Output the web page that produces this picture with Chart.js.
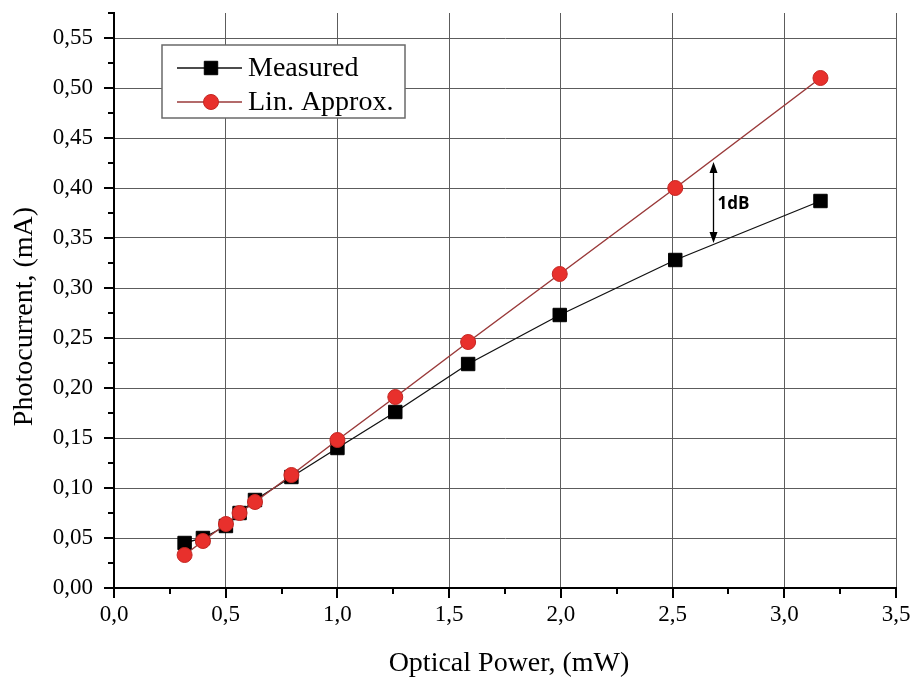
<!DOCTYPE html>
<html>
<head>
<meta charset="utf-8">
<title>Photocurrent vs Optical Power</title>
<script src="https://cdn.jsdelivr.net/npm/chart.js@4.4.1/dist/chart.umd.min.js"></script>
<style>
  html, body { margin: 0; padding: 0; background: #ffffff; }
  #c { display: block; }
</style>
</head>
<body>
<canvas id="c" width="913" height="681"></canvas>
<script>
// Optical input power (mW): -5 ... +5 dBm
const powerMW = [0.316, 0.398, 0.501, 0.562, 0.631, 0.794, 1.000, 1.259, 1.585, 1.995, 2.512, 3.162];
// Measured photocurrent (mA)
const measured = [0.045, 0.050, 0.062, 0.075, 0.088, 0.111, 0.140, 0.176, 0.224, 0.273, 0.328, 0.387];
// Linear approximation of the photocurrent (mA)
const linApprox = [0.033, 0.047, 0.064, 0.075, 0.086, 0.113, 0.148, 0.191, 0.246, 0.314, 0.400, 0.510];

// Axis ranges and tick steps (minor step; every second tick is major)
const xRange = [0, 3.5];
const yRange = [0, 0.575];
const xMinorStep = 0.25;
const yMinorStep = 0.025;

const seriesNames = ['Measured', 'Lin. Approx.'];
const xTitle = 'Optical Power, (mW)';
const yTitle = 'Photocurrent, (mA)';

// Compression marker between the two curves
const gapLabel = '1dB';
const gapX = 2.68;
const gapTop = 0.426;
const gapBottom = 0.345;

const SERIF = '"Liberation Serif", "Times New Roman", serif';
const SANS = '"Open Sans", "Liberation Sans", sans-serif';
const GRID = '#5c5c5c';

const isMajorX = v => Math.round(v * 100) % 50 === 0;
const isMajorY = v => Math.round(v * 1000) % 50 === 0;
const comma = (v, d) => v.toFixed(d).replace('.', ',');

const toPoints = ys => powerMW.map((x, i) => ({ x, y: ys[i] }));

// Keep the plot box fixed: no extra room reserved for edge labels
function fixBox(size, key) {
  return s => {
    s[key] = size;
    s.paddingTop = 0; s.paddingBottom = 0;
    s.paddingLeft = 0; s.paddingRight = 0;
  };
}

// Outward major/minor tick marks and axis titles
const axisDecor = {
  id: 'axisDecor',
  afterDraw(chart) {
    const { ctx, chartArea: a, scales: { x, y } } = chart;
    ctx.save();
    ctx.strokeStyle = '#000';
    ctx.lineWidth = 2;
    ctx.beginPath();
    x.ticks.forEach(t => {
      const px = Math.round(x.getPixelForValue(t.value));
      const len = isMajorX(t.value) ? 10 : 6;
      ctx.moveTo(px, a.bottom);
      ctx.lineTo(px, a.bottom + len);
    });
    y.ticks.forEach(t => {
      const py = Math.round(y.getPixelForValue(t.value));
      const len = isMajorY(t.value) ? 10 : 6;
      ctx.moveTo(a.left, py);
      ctx.lineTo(a.left - len, py);
    });
    ctx.stroke();

    ctx.fillStyle = '#000';
    ctx.font = '28px ' + SERIF;
    ctx.textAlign = 'center';
    ctx.textBaseline = 'middle';
    ctx.fillText(xTitle, (a.left + a.right) / 2 + 4, a.bottom + 76);
    ctx.translate(a.left - 89, (a.top + a.bottom) / 2 + 16);
    ctx.rotate(-Math.PI / 2);
    ctx.fillText(yTitle, 0, 0);
    ctx.restore();
  }
};

// Double-headed arrow with its label
const gapMarker = {
  id: 'gapMarker',
  afterDatasetsDraw(chart) {
    const { ctx, scales: { x, y } } = chart;
    const px = Math.round(x.getPixelForValue(gapX)) + 0.5;
    const top = y.getPixelForValue(gapTop);
    const bot = y.getPixelForValue(gapBottom);
    const head = 11, half = 4;
    ctx.save();
    ctx.strokeStyle = '#000';
    ctx.fillStyle = '#000';
    ctx.lineWidth = 1.3;
    ctx.beginPath();
    ctx.moveTo(px, top + head - 2);
    ctx.lineTo(px, bot - head + 2);
    ctx.stroke();
    ctx.beginPath();
    ctx.moveTo(px, top);
    ctx.lineTo(px - half, top + head);
    ctx.lineTo(px + half, top + head);
    ctx.closePath();
    ctx.moveTo(px, bot);
    ctx.lineTo(px - half, bot - head);
    ctx.lineTo(px + half, bot - head);
    ctx.closePath();
    ctx.fill();
    ctx.font = 'bold 17px ' + SANS;
    ctx.textAlign = 'left';
    ctx.textBaseline = 'middle';
    ctx.fillText(gapLabel, px + 4, (top + bot) / 2 + 2);
    ctx.restore();
  }
};

// Boxed legend inside the plot area
const boxLegend = {
  id: 'boxLegend',
  afterDatasetsDraw(chart) {
    const { ctx, chartArea: a } = chart;
    const bx = a.left + 48, by = a.top + 32, bw = 243, bh = 73;
    ctx.save();
    ctx.fillStyle = '#fff';
    ctx.fillRect(bx, by, bw, bh);
    ctx.strokeStyle = '#6a6a6a';
    ctx.lineWidth = 1.5;
    ctx.strokeRect(bx, by, bw, bh);
    const rows = [by + 23, by + 57];
    chart.data.datasets.forEach((ds, i) => {
      const cy = rows[i];
      const mx = bx + 49;
      ctx.strokeStyle = ds.borderColor;
      ctx.lineWidth = ds.borderWidth;
      ctx.beginPath();
      ctx.moveTo(bx + 15, cy);
      ctx.lineTo(bx + 80, cy);
      ctx.stroke();
      ctx.fillStyle = ds.pointBackgroundColor;
      ctx.strokeStyle = ds.pointBorderColor;
      ctx.lineWidth = ds.pointBorderWidth;
      ctx.beginPath();
      if (ds.pointStyle === 'rect') {
        const s = ds.pointRadius * Math.SQRT1_2;
        ctx.rect(mx - s, cy - s, 2 * s, 2 * s);
      } else {
        ctx.arc(mx, cy, ds.pointRadius, 0, Math.PI * 2);
      }
      ctx.fill();
      ctx.stroke();
      ctx.fillStyle = '#000';
      ctx.font = '28px ' + SERIF;
      ctx.textAlign = 'left';
      ctx.textBaseline = 'middle';
      ctx.fillText(seriesNames[i], bx + 86, cy + 1);
    });
    ctx.restore();
  }
};

new Chart(document.getElementById('c'), {
  type: 'line',
  data: {
    datasets: [
      {
        label: seriesNames[0],
        data: toPoints(measured),
        borderColor: '#111111',
        borderWidth: 1.3,
        pointStyle: 'rect',
        pointRadius: 9.5,
        pointBackgroundColor: '#000000',
        pointBorderColor: '#000000',
        pointBorderWidth: 1,
        tension: 0,
        order: 2
      },
      {
        label: seriesNames[1],
        data: toPoints(linApprox),
        borderColor: '#9a3a3a',
        borderWidth: 1.5,
        pointStyle: 'circle',
        pointRadius: 7.5,
        pointBackgroundColor: '#e8302c',
        pointBorderColor: '#c42622',
        pointBorderWidth: 1,
        tension: 0,
        order: 1
      }
    ]
  },
  options: {
    responsive: false,
    devicePixelRatio: 1,
    animation: false,
    layout: { padding: { top: 13, right: 17, left: 0, bottom: 0 } },
    plugins: {
      legend: { display: false },
      tooltip: { enabled: false }
    },
    scales: {
      x: {
        type: 'linear',
        min: xRange[0],
        max: xRange[1],
        afterFit: fixBox(93, 'height'),
        border: { display: true, color: '#000', width: 2 },
        grid: {
          drawTicks: false,
          lineWidth: 1,
          color: c => (c.tick && isMajorX(c.tick.value) ? GRID : 'rgba(0,0,0,0)')
        },
        ticks: {
          stepSize: xMinorStep,
          autoSkip: false,
          maxRotation: 0,
          padding: 13,
          color: '#000',
          font: { family: SERIF, size: 23 },
          callback: v => (isMajorX(v) ? comma(v, 1) : '')
        }
      },
      y: {
        type: 'linear',
        min: yRange[0],
        max: yRange[1],
        afterFit: fixBox(114, 'width'),
        border: { display: true, color: '#000', width: 2 },
        grid: {
          drawTicks: false,
          lineWidth: 1,
          color: c => (c.tick && isMajorY(c.tick.value) && c.tick.value > 0 ? GRID : 'rgba(0,0,0,0)')
        },
        ticks: {
          stepSize: yMinorStep,
          autoSkip: false,
          padding: 21,
          color: '#000',
          font: { family: SERIF, size: 23 },
          callback: v => (isMajorY(v) ? comma(v, 2) : '')
        }
      }
    }
  },
  plugins: [axisDecor, gapMarker, boxLegend]
});
</script>
</body>
</html>
